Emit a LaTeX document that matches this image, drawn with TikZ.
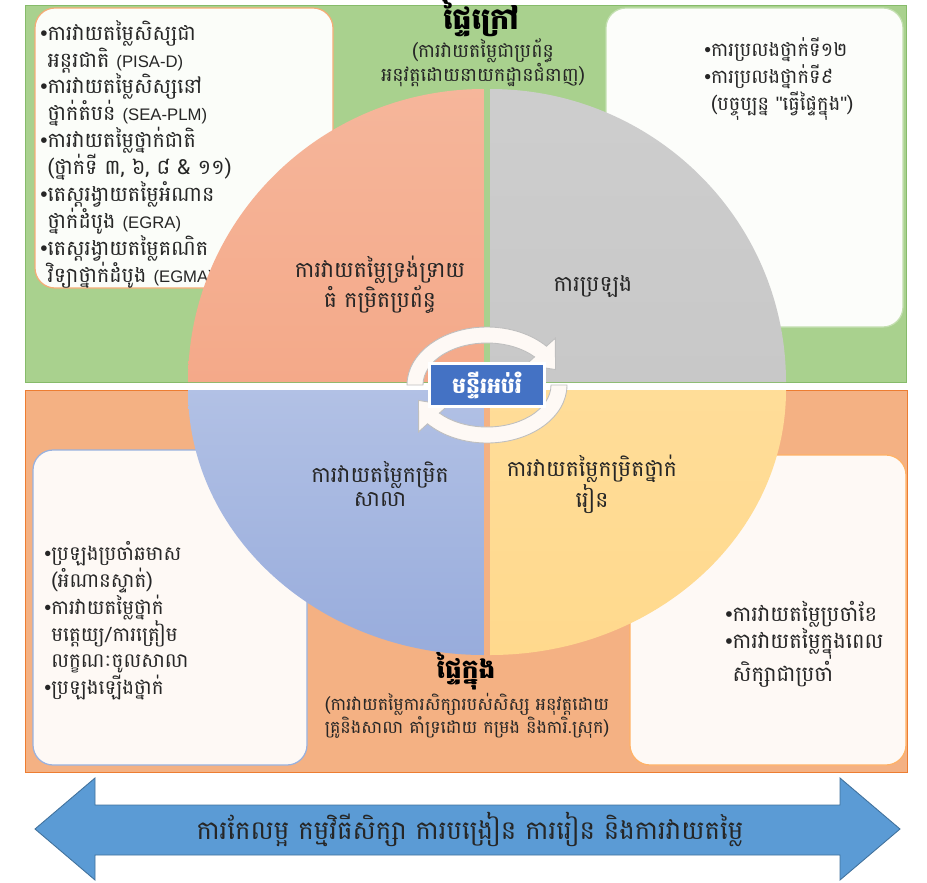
\documentclass[tikz,border=0pt]{standalone}
\usepackage{fontspec}
\setmainfont{Battambang}[Script=Khmer]
\newfontfamily\latfont{Liberation Sans}
\usepackage{tikz}
\usetikzlibrary{calc}
\definecolor{outgreen}{HTML}{A9D18E}
\definecolor{outgreenline}{HTML}{86BB6A}
\definecolor{insalmon}{HTML}{F4B183}
\definecolor{insalmonline}{HTML}{ED7D31}
\definecolor{sysfill}{HTML}{F4A989}
\definecolor{examfill}{HTML}{C8C8C8}
\definecolor{classfill}{HTML}{FFD98D}
\definecolor{schoolfill}{HTML}{98ACDC}
\definecolor{hubblue}{HTML}{4472C4}
\definecolor{arrowblue}{HTML}{5B9BD5}
\definecolor{arrowline}{HTML}{41719C}
\definecolor{ink}{HTML}{262626}
\tikzstyle{panel}=[rounded corners=4mm, line width=.7pt]
\tikzstyle{listtext}=[anchor=north west, align=left, inner sep=0pt, text=ink, font=\fontsize{11.8}{15.3}\selectfont]
\tikzstyle{quarter}=[align=center, inner sep=0pt, text=ink, font=\fontsize{12.5}{13.5}\selectfont]
\tikzstyle{turn}=[fill=white!92!insalmon, draw=black!25, line width=.5pt]
\newcommand{\lat}[1]{{\latfont\fontsize{9.5}{10}\selectfont #1}}
\newcommand{\bul}{{\latfont\textbullet}}
\newcommand{\ind}{\hphantom{\bul}}

\begin{document}
\begin{tikzpicture}[x=.02cm, y=-.02cm]
\useasboundingbox (0,0) rectangle (927,883);
\draw[draw=outgreenline, fill=outgreen] (25,5) rectangle (906,382);
\draw[draw=insalmonline, fill=insalmon] (25,390) rectangle (907,772);

\draw[panel, draw=insalmon!90!orange, fill=white!95!outgreen] (35,8) rectangle (333,288);
\draw[panel, draw=outgreen!70, fill=white!96!outgreen] (606,8) rectangle (903,327);
\draw[panel, draw=hubblue!55, fill=white!92!insalmon] (33,450) rectangle (307,765);
\draw[panel, draw=orange!60, fill=white!92!insalmon] (630,455) rectangle (906,765);

\node[listtext] (nationallist) at (40,20) {\bul ការវាយតម្លៃសិស្សជា\\
\ind អន្តរជាតិ \lat{(PISA-D)}\\
\bul ការវាយតម្លៃសិស្សនៅ\\
\ind ថ្នាក់តំបន់ \lat{(SEA-PLM)}\\
\bul ការវាយតម្លៃថ្នាក់ជាតិ\\
\ind (ថ្នាក់ទី ៣, ៦, ៨ \& ១១)\\
\bul តេស្តរង្វាយតម្លៃអំណាន\\
\ind ថ្នាក់ដំបូង \lat{(EGRA)}\\
\bul តេស្តរង្វាយតម្លៃគណិត\\
\ind វិទ្យាថ្នាក់ដំបូង \lat{(EGMA)}};
\node[listtext, font=\fontsize{11}{15.3}\selectfont] (examlist) at (704,37) {\bul ការប្រលងថ្នាក់ទី១២\\
\bul ការប្រលងថ្នាក់ទី៩\\
\ind (បច្ចុប្បន្ន {\latfont"}ធ្វើផ្ទៃក្នុង{\latfont"})};
\node[listtext, font=\fontsize{11.3}{15.3}\selectfont] (schoollist) at (44,541) {\bul ប្រឡងប្រចាំឆមាស\\
\ind (អំណានស្ទាត់)\\
\bul ការវាយតម្លៃថ្នាក់\\
\ind មត្តេយ្យ/ការត្រៀម\\
\ind លក្ខណៈចូលសាលា\\
\bul ប្រឡងឡើងថ្នាក់};
\node[listtext, font=\fontsize{12}{15.3}\selectfont] (classlist) at (725,601) {\bul ការវាយតម្លៃប្រចាំខែ\\
\bul ការវាយតម្លៃក្នុងពេល\\
\ind សិក្សាជាប្រចាំ};

\foreach \a/\dx/\dy/\ry/\ct/\cb in {-180/-3/-3/293/sysfill!85!white/sysfill, -90/3/-3/293/examfill!90!white/examfill, 0/3/5/265/classfill!90!white/classfill, 90/-3/5/265/schoolfill!75!white/schoolfill}
  \shade[top color=\ct, bottom color=\cb] (487+\dx,385+\dy) -- ++(\a:296 and \ry) arc[start angle=\a, end angle=\a+90, x radius=296, y radius=\ry] -- cycle;

\node[align=center, text=black, font=\bfseries\fontsize{17}{19}\selectfont] (exttitle) at (481,18) {ផ្ទៃក្រៅ};
\node[align=center, text=ink, font=\fontsize{10.8}{13.5}\selectfont] (extnote) at (483,63) {(ការវាយតម្លៃជាប្រព័ន្ធ\\អនុវត្តដោយនាយកដ្ឋានជំនាញ)};

\node[quarter] (sysq) at (380,285) {ការវាយតម្លៃទ្រង់ទ្រាយ\\ធំ កម្រិតប្រព័ន្ធ};
\node[quarter] (examq) at (593,287) {ការប្រឡង};
\node[quarter] (schoolq) at (380,484) {ការវាយតម្លៃកម្រិត\\សាលា};
\node[quarter] (classq) at (592,484) {ការវាយតម្លៃកម្រិតថ្នាក់\\រៀន};

\foreach \s/\e/\t in {-180/-42/-18, 0/138/162}
  \draw[turn] (487,385) ++(\s:80 and 58) arc[start angle=\s, end angle=\e, x radius=80, y radius=58]
    -- ($(487,385)+(\e:92 and 70)$) -- ($(487,385)+(\t:72 and 50)$) -- ($(487,385)+(\e:52 and 30)$)
    -- ($(487,385)+(\e:64 and 42)$) arc[start angle=\e, end angle=\s, x radius=64, y radius=42] -- cycle;

\node[fill=hubblue, draw=white, line width=1.5pt, minimum width=2.3cm, minimum height=.86cm, text=white, font=\bfseries\fontsize{12.5}{15}\selectfont] (hub) at (487,385) {មន្ទីរអប់រំ};

\node[align=center, text=black, font=\bfseries\fontsize{15}{17}\selectfont] (inttitle) at (466,671) {ផ្ទៃក្នុង};
\node[align=center, text=ink, font=\fontsize{10}{12.8}\selectfont] (intnote) at (467,716) {(ការវាយតម្លៃការសិក្សារបស់សិស្ស អនុវត្តដោយ\\គ្រូនិងសាលា គាំទ្រដោយ កម្រង និងការិ.ស្រុក)};

\draw[fill=arrowblue, draw=arrowline, line width=.5pt] (35,829) -- (95,778) -- (95,805) -- (840,805) -- (840,778) -- (900,829) -- (840,880) -- (840,855) -- (95,855) -- (95,880) -- cycle;
\node[text=ink, font=\fontsize{14.8}{17}\selectfont] (reformtext) at (470,829) {ការកែលម្អ កម្មវិធីសិក្សា ការបង្រៀន ការរៀន និងការវាយតម្លៃ};
\end{tikzpicture}
\end{document}
